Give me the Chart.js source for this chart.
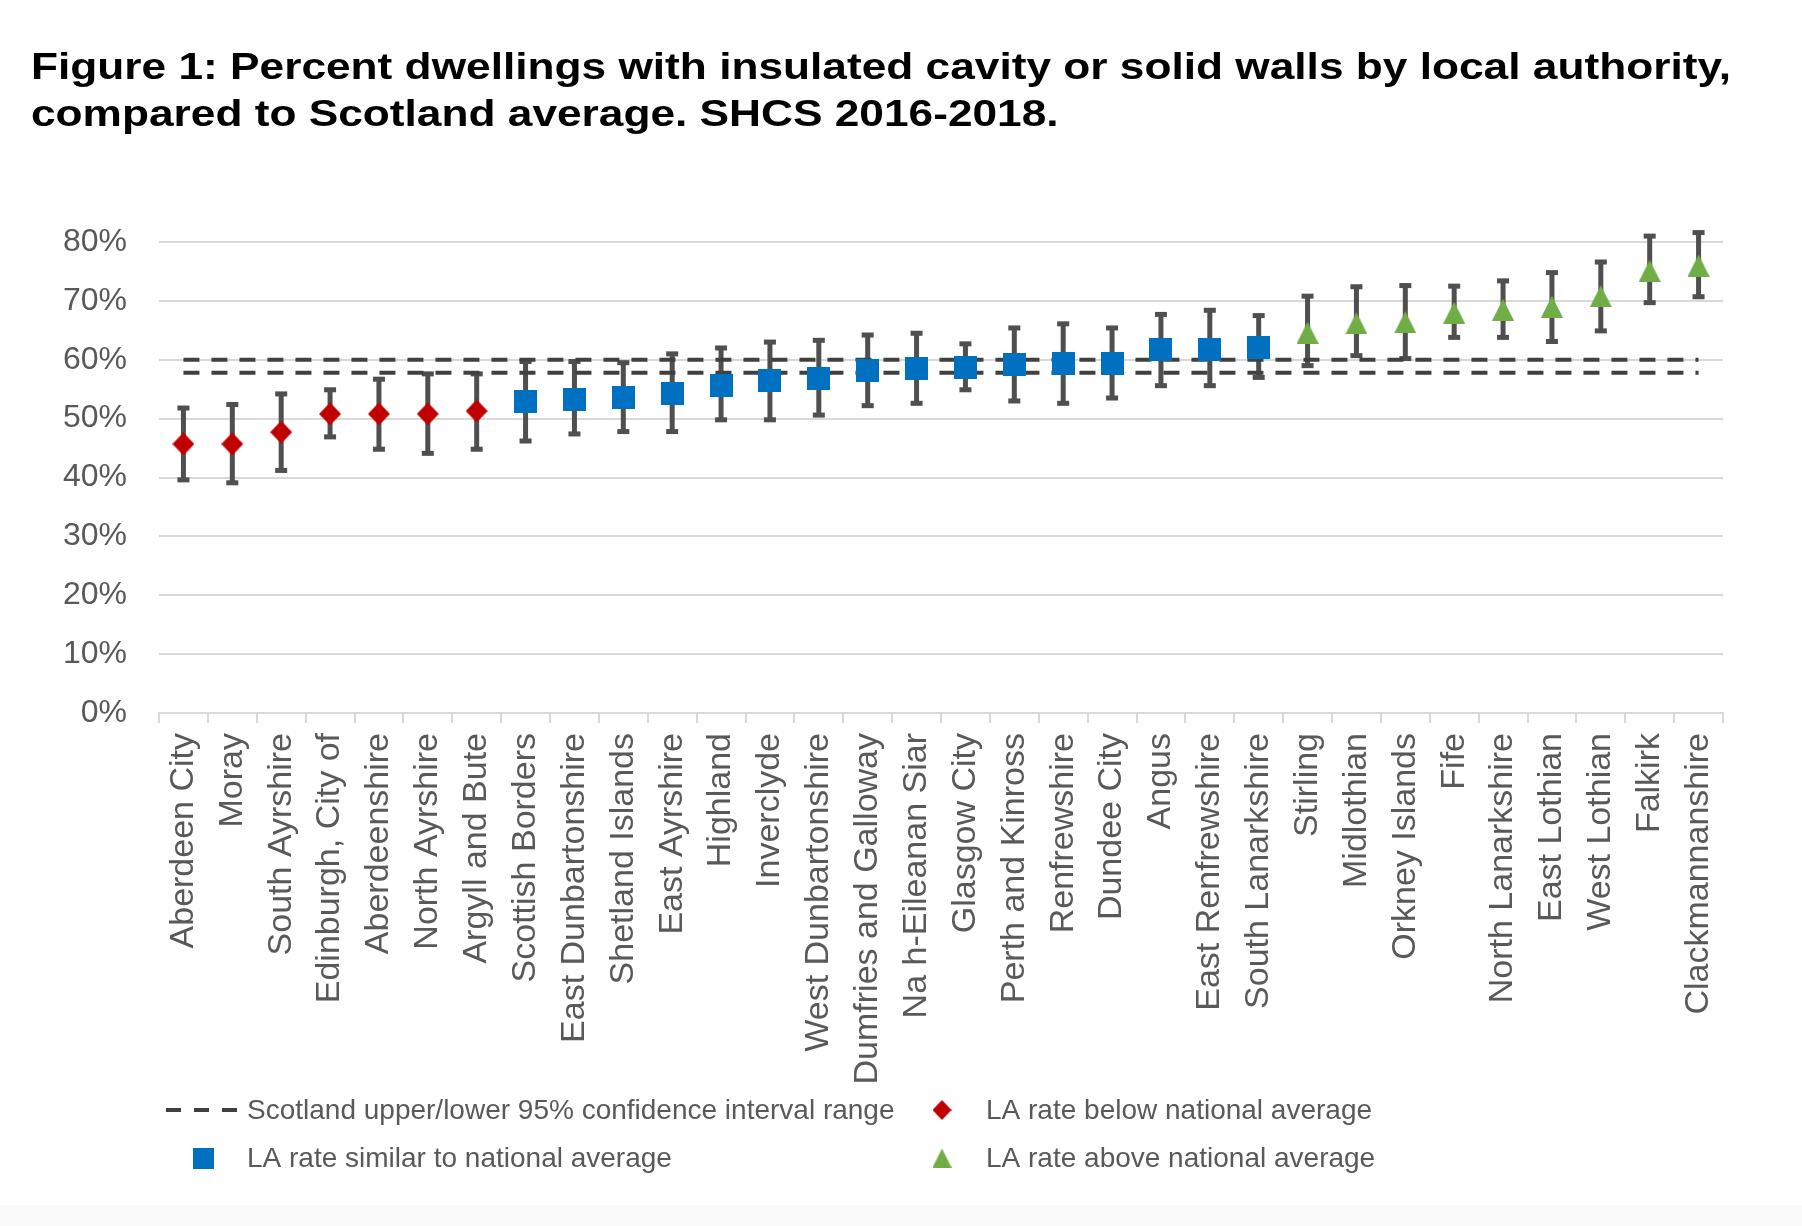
<!DOCTYPE html>
<html>
<head>
<meta charset="utf-8">
<script src="https://cdn.jsdelivr.net/npm/chart.js@4.4.1/dist/chart.umd.min.js"></script>
<style>
  html, body { margin: 0; padding: 0; background: #ffffff; }
  #wrap { width: 1802px; height: 1226px; position: relative; }
</style>
</head>
<body>
<div id="wrap"><canvas id="c"></canvas></div>
<script>
// ---------------- DATA ----------------
const titleLines = [
  "Figure 1: Percent dwellings with insulated cavity or solid walls by local authority,",
  "compared to Scotland average. SHCS 2016-2018."
];
const categories = ['Aberdeen City','Moray','South Ayrshire','Edinburgh, City of','Aberdeenshire','North Ayrshire','Argyll and Bute','Scottish Borders','East Dunbartonshire','Shetland Islands','East Ayrshire','Highland','Inverclyde','West Dunbartonshire','Dumfries and Galloway','Na h-Eileanan Siar','Glasgow City','Perth and Kinross','Renfrewshire','Dundee City','Angus','East Renfrewshire','South Lanarkshire','Stirling','Midlothian','Orkney Islands','Fife','North Lanarkshire','East Lothian','West Lothian','Falkirk','Clackmannanshire'];
const values = [45.7,45.7,47.7,50.8,50.8,50.8,51.3,52.9,53.3,53.6,54.3,55.7,56.4,56.8,58.2,58.5,58.7,59.2,59.4,59.4,61.7,61.8,62.1,64.6,66.2,66.4,68.0,68.5,69.0,70.8,75.1,76.0];
const lowerCI = [39.6,39.1,41.2,46.9,44.8,44.1,44.8,46.2,47.4,47.8,47.8,49.8,49.8,50.6,52.2,52.6,54.9,53.0,52.6,53.5,55.6,55.6,57.0,59.0,60.7,60.2,63.8,63.8,63.1,64.9,69.7,70.7];
const upperCI = [51.8,52.4,54.2,54.9,56.7,57.6,57.6,59.7,59.7,59.5,61.0,62.0,63.0,63.3,64.2,64.5,62.7,65.4,66.1,65.4,67.7,68.4,67.5,70.8,72.4,72.6,72.5,73.4,74.8,76.6,81.0,81.6];
const groups = ['below','below','below','below','below','below','below',
  'similar','similar','similar','similar','similar','similar','similar','similar','similar','similar','similar','similar','similar','similar','similar','similar',
  'above','above','above','above','above','above','above','above','above'];
const scotlandUpper = 60.0;
const scotlandLower = 57.8;
const yTicks = [0,10,20,30,40,50,60,70,80];
const legendLabels = {
  ci: 'Scotland upper/lower 95% confidence interval range',
  below: 'LA rate below national average',
  similar: 'LA rate similar to national average',
  above: 'LA rate above national average'
};

// ---------------- STYLE ----------------
const FONT = "'Liberation Sans', Arial, sans-serif";
const TEXT = '#595959';
const COLORS = { below: '#C00000', similar: '#0070C0', above: '#70AD47' };

function makeMarker(kind, color, w, h) {
  const c = document.createElement('canvas');
  c.width = w; c.height = h;
  const g = c.getContext('2d');
  g.fillStyle = color;
  g.beginPath();
  if (kind === 'diamond') {
    g.moveTo(w/2, 0); g.lineTo(w, h/2); g.lineTo(w/2, h); g.lineTo(0, h/2);
  } else if (kind === 'square') {
    g.rect(0, 0, w, h);
  } else {
    g.moveTo(w/2, 0); g.lineTo(w, h); g.lineTo(0, h);
  }
  g.closePath(); g.fill();
  return c;
}
const markers = {
  below: makeMarker('diamond', COLORS.below, 22, 23),
  similar: makeMarker('square', COLORS.similar, 23, 23),
  above: makeMarker('triangle', COLORS.above, 22, 22)
};
const legendMarkers = {
  below: makeMarker('diamond', COLORS.below, 19, 20),
  similar: makeMarker('square', COLORS.similar, 21, 21),
  above: makeMarker('triangle', COLORS.above, 19, 19)
};

function groupData(g) { return values.map((v, i) => groups[i] === g ? v : null); }

// ---------------- PLUGINS ----------------
const errorBars = {
  id: 'errorBars',
  beforeDatasetsDraw(chart) {
    const { ctx, scales: { x, y } } = chart;
    ctx.save();
    ctx.strokeStyle = '#4f4f4f';
    ctx.fillStyle = '#4f4f4f';
    ctx.lineWidth = 5;
    for (let i = 0; i < categories.length; i++) {
      const px = x.getPixelForValue(i);
      const y1 = y.getPixelForValue(lowerCI[i]);
      const y2 = y.getPixelForValue(upperCI[i]);
      ctx.beginPath(); ctx.moveTo(px, y1); ctx.lineTo(px, y2); ctx.stroke();
      ctx.fillRect(px - 6, y1 - 2.5, 12, 5);
      ctx.fillRect(px - 6, y2 - 2.5, 12, 5);
    }
    ctx.restore();
  }
};

const titleAndLegend = {
  id: 'titleAndLegend',
  beforeDraw(chart) {
    const ctx = chart.ctx;
    ctx.save();
    ctx.fillStyle = '#ffffff';
    ctx.fillRect(0, 0, chart.width, chart.height);
    ctx.fillStyle = '#fafafa';
    ctx.fillRect(0, 1205, chart.width, chart.height - 1205);
    ctx.restore();
  },
  afterDraw(chart) {
    const ctx = chart.ctx;
    ctx.save();
    // Title (slightly widened bold face, as in the reference)
    ctx.fillStyle = '#000000';
    ctx.font = 'bold 36px ' + FONT;
    ctx.textBaseline = 'alphabetic';
    ctx.textAlign = 'left';
    const natural = ctx.measureText(titleLines[0]).width;
    const target = 1700;
    const sx = target / natural;
    ctx.save();
    ctx.translate(31, 0);
    ctx.scale(sx, 1);
    ctx.fillText(titleLines[0], 0, 79);
    ctx.fillText(titleLines[1], 0, 126);
    ctx.restore();

    // Legend
    ctx.font = '28px ' + FONT;
    ctx.fillStyle = TEXT;
    ctx.textBaseline = 'middle';
    const row1 = 1110, row2 = 1158;
    const col1Text = 247, col2Text = 986, col2Mark = 942, col1Mark = 203;
    ctx.strokeStyle = '#404040';
    ctx.lineWidth = 4;
    ctx.setLineDash([15, 13]);
    ctx.beginPath(); ctx.moveTo(166, row1); ctx.lineTo(237, row1); ctx.stroke();
    ctx.setLineDash([]);
    ctx.fillText(legendLabels.ci, col1Text, row1 + 1);
    const drawM = (m, cx, cy) => ctx.drawImage(m, cx - m.width/2, cy - m.height/2);
    drawM(legendMarkers.below, col2Mark, row1);
    ctx.fillText(legendLabels.below, col2Text, row1 + 1);
    drawM(legendMarkers.similar, col1Mark, row2);
    ctx.fillText(legendLabels.similar, col1Text, row2 + 1);
    drawM(legendMarkers.above, col2Mark, row2);
    ctx.fillText(legendLabels.above, col2Text, row2 + 1);
    ctx.restore();
  }
};

// ---------------- CHART ----------------
Chart.defaults.font.family = FONT;
Chart.defaults.color = TEXT;

const lastCat = categories[categories.length - 1];
new Chart(document.getElementById('c'), {
  type: 'line',
  data: {
    labels: categories,
    datasets: [
      { label: legendLabels.below, data: groupData('below'), showLine: false,
        pointStyle: markers.below, pointRadius: 10, order: 0 },
      { label: legendLabels.similar, data: groupData('similar'), showLine: false,
        pointStyle: markers.similar, pointRadius: 10, order: 0 },
      { label: legendLabels.above, data: groupData('above'), showLine: false,
        pointStyle: markers.above, pointRadius: 10, order: 0 },
      { label: legendLabels.ci, data: [{ x: categories[0], y: scotlandUpper }, { x: lastCat, y: scotlandUpper }],
        borderColor: '#404040', borderWidth: 4, borderDash: [16, 12], pointRadius: 0, fill: false, order: 1 },
      { label: legendLabels.ci + ' (lower)', data: [{ x: categories[0], y: scotlandLower }, { x: lastCat, y: scotlandLower }],
        borderColor: '#404040', borderWidth: 4, borderDash: [16, 12], pointRadius: 0, fill: false, order: 1 }
    ]
  },
  options: {
    responsive: true,
    maintainAspectRatio: false,
    animation: false,
    events: [],
    layout: { padding: { top: 242, right: 79, left: 0, bottom: 90 } },
    plugins: { legend: { display: false }, title: { display: false }, tooltip: { enabled: false } },
    scales: {
      x: {
        type: 'category',
        offset: true,
        grid: { offset: true, drawOnChartArea: false, drawTicks: true, tickLength: 10, color: '#d9d9d9', lineWidth: 2 },
        border: { display: true, color: '#d9d9d9', width: 2 },
        ticks: { autoSkip: false, maxRotation: 90, minRotation: 90, padding: 10, color: TEXT, font: { size: 34 } },
        afterFit(scale) { scale.height = 1226 - 713 - 90; }
      },
      y: {
        min: 0, max: 80,
        afterBuildTicks(scale) { scale.ticks = yTicks.map(v => ({ value: v })); },
        grid: { color: '#d9d9d9', lineWidth: 2, drawTicks: false },
        border: { display: false },
        ticks: { padding: 32, color: TEXT, font: { size: 32 }, callback: v => v + '%' },
        afterFit(scale) { scale.width = 159; }
      }
    }
  },
  plugins: [errorBars, titleAndLegend]
});
</script>
</body>
</html>
